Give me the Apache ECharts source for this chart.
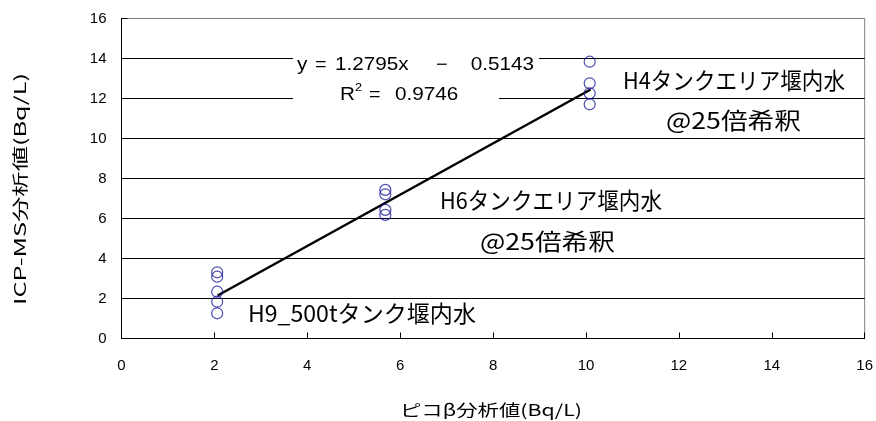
<!DOCTYPE html>
<html><head><meta charset="utf-8">
<script src="https://cdn.jsdelivr.net/npm/echarts@6/dist/echarts.min.js"></script>
<style>html,body{margin:0;padding:0;background:#fff}#c{width:876px;height:421px}</style>
</head><body><div id="c"></div>
<script>
// ---- data ----
const groupX = [2.06, 5.68, 10.08];
const groupY1 = [3.31, 3.09, 2.34, 1.84, 1.26];
const groupY2 = [7.43, 7.21, 6.43, 6.18];
const groupY3 = [13.84, 12.76, 12.26, 11.71];
const trendX = [2.07, 10.1];
const trendY = [2.15, 12.45];
const yTitle = 'ICP-MS分析値(Bq/L)';
const xTitle = 'ピコβ分析値(Bq/L)';
const eqSlope = '1.2795x';
const eqIntercept = '0.5143';
const r2Value = '0.9746';
const labelH4 = 'H4タンクエリア堰内水';
const labelH6 = 'H6タンクエリア堰内水';
const labelDil = '@25倍希釈';
const labelH9 = 'H9_500tタンク堰内水';

const points = [];
[groupY1, groupY2, groupY3].forEach((ys, i) => ys.forEach(v => points.push([groupX[i], v])));
const trend = trendX.map((x, i) => [x, trendY[i]]);

const JP = "'Noto Sans CJK JP'";
const LAT = "'Liberation Sans'";
const cv = document.createElement('canvas').getContext('2d');
function fit(text, cx, cy, w, size, family, rot) {
  cv.font = size + 'px ' + family;
  const m = cv.measureText(text).width;
  return { type: 'text', x: cx, y: cy, scaleX: w / m, rotation: rot || 0, z: 10,
    style: { text: text, font: size + 'px ' + family, fill: '#000', textAlign: 'center', textVerticalAlign: 'middle', verticalAlign: 'middle' } };
}
function tl(text, x, y, size, family, sx, align) {
  return { type: 'text', x: x, y: y, scaleX: sx || 1, z: 10,
    style: { text: text, font: size + 'px ' + family, fill: '#000', textAlign: align || 'left', textVerticalAlign: 'middle', verticalAlign: 'middle' } };
}

const chart = echarts.init(document.getElementById('c'), null, { renderer: 'canvas' });
chart.setOption({
  animation: false,
  backgroundColor: '#fff',
  grid: { left: 121.5, top: 18.5, width: 746.5, height: 320, show: true, borderColor: '#808080', borderWidth: 1, backgroundColor: 'transparent' },
  xAxis: {
    type: 'value', min: 0, max: 16, interval: 2,
    axisLine: { lineStyle: { color: '#000', width: 1 } },
    axisTick: { inside: true, length: 6, lineStyle: { color: '#000' } },
    axisLabel: { color: '#000', fontSize: 15, fontFamily: 'Liberation Sans', margin: 20 },
    splitLine: { show: false }
  },
  yAxis: {
    type: 'value', min: 0, max: 16, interval: 2,
    axisLine: { lineStyle: { color: '#000', width: 1 } },
    axisTick: { inside: true, length: 6, lineStyle: { color: '#000' } },
    axisLabel: { color: '#000', fontSize: 15, fontFamily: 'Liberation Sans', margin: 15 },
    splitLine: { show: true, showMaxLine: false, lineStyle: { color: '#000', width: 1 } }
  },
  series: [
    { type: 'line', data: trend, symbol: 'none', lineStyle: { color: '#000', width: 2.5 }, z: 3 },
    { type: 'scatter', data: points, symbol: 'circle', symbolSize: 11,
      itemStyle: { color: 'rgba(0,0,0,0)', borderColor: '#1e1e9e', borderWidth: 1.2 }, z: 4 }
  ],
  graphic: [
    { type: 'rect', shape: { x: 293, y: 50, width: 246, height: 18 }, style: { fill: '#fff' }, z: 5 },
    { type: 'rect', shape: { x: 293, y: 88, width: 206, height: 20 }, style: { fill: '#fff' }, z: 5 },
    tl('y', 297, 65, 18, LAT, 1.15),
    tl('=', 315, 65, 18, LAT, 1.1),
    tl(eqSlope, 335, 65, 18, LAT, 1.15),
    tl('−', 436, 65, 18, LAT, 1.1),
    tl(eqIntercept, 534, 65, 18, LAT, 1.15, 'right'),
    tl('R', 340, 95, 18, LAT, 1.15),
    tl('2', 355, 88, 11, LAT, 1.15),
    tl('=', 369, 95, 18, LAT, 1.1),
    tl(r2Value, 395, 95, 18, LAT, 1.15),
    fit(labelH4, 734, 80, 222, 23, JP),
    fit(labelDil, 733.5, 120, 135, 23, JP),
    fit(labelH6, 551, 200, 222, 23, JP),
    fit(labelDil, 547.5, 241.5, 135, 23, JP),
    fit(labelH9, 362, 313, 228, 23, JP),
    fit(yTitle, 20, 189, 232, 16, JP, Math.PI / 2),
    fit(xTitle, 491, 410, 182, 16, JP)
  ]
});
</script></body></html>
